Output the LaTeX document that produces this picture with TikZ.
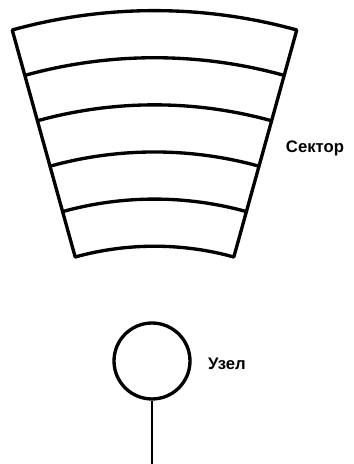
\documentclass[tikz,border=0pt]{standalone}
\usepackage{fontspec}
\setmainfont{Liberation Sans}
\usepackage{tikz}

\begin{document}
\begin{tikzpicture}[x=0.02cm, y=0.02cm,
  every node/.style={inner sep=0pt},
  ring/.style={line width=1.9pt},
  tag/.style={font=\fontsize{9.5}{11}\selectfont\bfseries}]
\useasboundingbox (0,0) rectangle (353,464);
% === Sector: six concentric arcs ===
\coordinate (c) at (154.5,-79);
\foreach \k in {0,...,5} {
  \pgfmathsetmacro\rr{(296.8+47.12*\k)*0.02}
  \draw[ring] ([shift={(74.5:\rr cm)}]c) arc[start angle=74.5, end angle=105.5, radius=\rr cm];
}
\draw[ring, line cap=round] ([shift={(74.5:5.936cm)}]c) -- ([shift={(74.5:10.648cm)}]c);
\draw[ring, line cap=round] ([shift={(105.5:5.936cm)}]c) -- ([shift={(105.5:10.648cm)}]c);
\node[tag] (sector) at (315,316) {Сектор};

% === Node with stem ===
\node[draw, circle, ring, minimum size=1.52cm] (knot) at (152,103) {};
\node[tag] (knotlabel) at (227,100) {Узел};
\coordinate (stem) at (152,0);
\draw[line width=1.2pt] (knot.south) -- (stem);
\end{tikzpicture}
\end{document}
